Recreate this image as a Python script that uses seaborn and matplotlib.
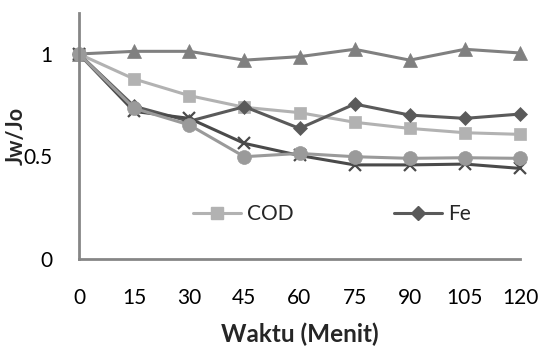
import matplotlib
matplotlib.use("Agg")
import matplotlib.pyplot as plt
import seaborn as sns
import pandas as pd
from matplotlib.lines import Line2D

sns.set_theme(style="white")
plt.rcParams['font.family'] = ['Lato', 'DejaVu Sans']

waktu = [0, 15, 30, 45, 60, 75, 90, 105, 120]
cod = [1.0, 0.878, 0.797, 0.74, 0.714, 0.667, 0.637, 0.616, 0.608]
fe = [1.0, 0.745, 0.672, 0.743, 0.637, 0.756, 0.702, 0.686, 0.707]
seri3 = [1.0, 1.013, 1.013, 0.97, 0.987, 1.023, 0.97, 1.023, 1.005]
seri4 = [1.0, 0.72, 0.686, 0.564, 0.505, 0.459, 0.459, 0.463, 0.442]
seri5 = [1.0, 0.735, 0.654, 0.499, 0.515, 0.499, 0.491, 0.494, 0.491]

series = [
    ("COD", cod, "#b2b2b2", "s", 9),
    ("Fe", fe, "#5a5a5a", "D", 7.5),
    ("Seri3", seri3, "#808080", "^", 10),
    ("Seri4", seri4, "#4a4a4a", "x", 9),
    ("Seri5", seri5, "#9a9a9a", "o", 10),
]

fig = plt.figure(figsize=(5.4, 3.47), dpi=100)
ax = fig.add_axes([79/540, 1-259/347, (520-79)/540, (259-13)/347])

for name, vals, col, mk, ms in series:
    df = pd.DataFrame({"Waktu": waktu, "Nilai": vals})
    sns.lineplot(data=df, x="Waktu", y="Nilai", ax=ax, color=col, marker=mk,
                 markersize=ms, markeredgecolor=col, markeredgewidth=1.6 if mk == "x" else 0.5,
                 linewidth=2.2, clip_on=False, legend=False)

ax.set_xlim(0, 120)
ax.set_ylim(0, 1.2)
ax.set_xticks(waktu)
ax.set_xticklabels([str(w) for w in waktu])
ax.set_yticks([0, 0.5, 1])
ax.set_yticklabels(["0", "0.5", "1"])
ax.tick_params(axis="x", length=0, pad=21, labelsize=15, colors="black")
ax.tick_params(axis="y", length=0, pad=19, labelsize=15, colors="black")

for s in ["top", "right"]:
    ax.spines[s].set_visible(False)
for s in ["left", "bottom"]:
    ax.spines[s].set_color("#868686")
    ax.spines[s].set_linewidth(2)

ax.set_xlabel("Waktu (Menit)", fontsize=17.5, fontweight="bold", labelpad=10)
ax.set_ylabel("Jw/Jo", fontsize=15.5, fontweight="bold")
ax.yaxis.set_label_coords(-52/441, 0.5)

handles = [Line2D([], [], color="#b2b2b2", marker="s", markersize=9, linewidth=2.2),
           Line2D([], [], color="#5a5a5a", marker="D", markersize=7.5, linewidth=2.2)]
leg = ax.legend(handles, ["COD", "Fe"], ncol=2, frameon=False, fontsize=15,
                loc="center", bbox_to_anchor=((332 - 79) / 441, (259 - 214) / 246),
                handlelength=2.3, handletextpad=0.3, columnspacing=4.8)

fig.savefig("out.png", dpi=100)
